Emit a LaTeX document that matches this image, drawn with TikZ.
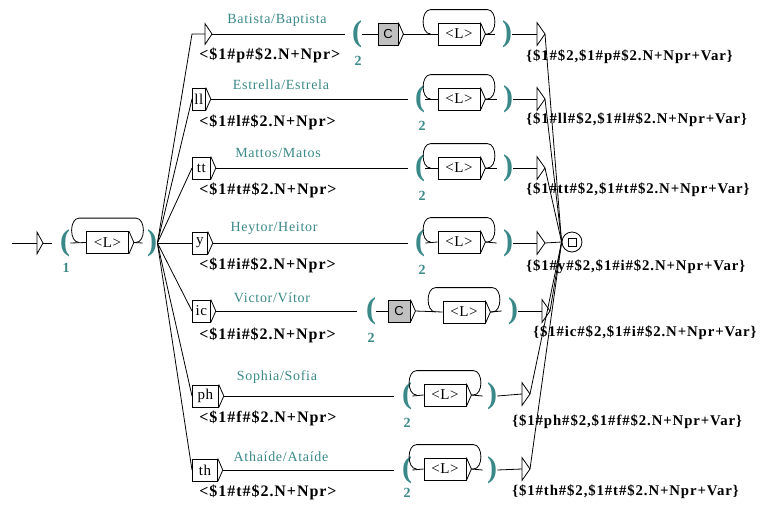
\documentclass[tikz,border=0pt]{standalone}
\usepackage{fontspec}
\setmainfont{Liberation Serif}
\newfontfamily\comfont[LetterSpace=5]{Liberation Serif}
\newfontfamily\outfont[LetterSpace=6]{Liberation Serif}
\newfontfamily\outlfont[LetterSpace=6]{Liberation Serif}
\newfontfamily\boxfont[LetterSpace=4]{Liberation Serif}
\newfontfamily\cfont{Liberation Sans}
\usetikzlibrary{calc}
\definecolor{tealc}{HTML}{3A8888}
\definecolor{boxgray}{HTML}{C0C0C0}
\newcommand\chev[1]{\draw (#1.north east) -- ([xshift=5pt]#1.east) -- (#1.south east);}
\newcommand\trig[2]{\draw (#1.north) -- ([xshift=#2pt]#1.center) -- (#1.south) -- cycle;}
\newcommand\lloop[1]{\draw ([xshift=5pt]#1.east) -- ([xshift=7pt]#1.east) .. controls ([xshift=17pt]#1.east) and ([xshift=17pt,yshift=13pt]#1.north east) .. ([xshift=7pt,yshift=13pt]#1.north east) -- ([xshift=-7pt,yshift=13pt]#1.north west) .. controls ([xshift=-17pt,yshift=13pt]#1.north west) and ([xshift=-17pt]#1.west) .. ([xshift=-7pt]#1.west);}
\tikzset{
 ubox/.style={draw, inner xsep=2pt, inner ysep=0pt, minimum height=22pt, font=\boxfont\fontsize{15}{17}\selectfont},
 lbox/.style={ubox, minimum width=42pt},
 cbox/.style={draw, fill=boxgray, inner sep=0pt, minimum height=22pt, font=\cfont\fontsize{13}{15}\selectfont},
 zpt/.style={inner sep=0pt, minimum width=0pt, minimum height=#1},
 paren/.style={inner sep=0pt, text width=#1, align=right, text=tealc, font=\bfseries\fontsize{30}{30}\selectfont},
 com/.style={text=tealc, inner sep=0pt, font=\comfont\fontsize{14}{16}\selectfont},
 num/.style={text=tealc, inner sep=0pt, font=\bfseries\fontsize{14}{16}\selectfont},
 outp/.style={inner sep=0pt, anchor=west, font=\outfont\bfseries\fontsize{14.8}{16}\selectfont},
 outl/.style={inner sep=0pt, anchor=west, font=\outlfont\bfseries\fontsize{16}{18}\selectfont},
}
\begin{document}
\begin{tikzpicture}[x=1pt,y=-1pt,line width=0.8pt]
\useasboundingbox (0,0) rectangle (761,504);
% final state
\node[circle, draw, minimum size=20pt, inner sep=0pt] (F) at (572,242) {};
\node[draw, minimum size=8pt, inner sep=0pt] (Fs) at (F.center) {};
% start
\coordinate (S) at (12,243);
\node[zpt=21pt] (I) at (37,243) {};
\node[paren=18pt] (P0) at (61,243) {(};
\node[num] (n1) at (66,268) {1};
\node[lbox] (L0) at (107.5,242.5) {<L>};
\node[paren=14pt] (Q0) at (150,243) {)};
\draw (S) -- (I.center); \trig{I}{6}
\draw ([xshift=6pt]I.center) -- (P0.west);
\draw (P0.east) -- (L0.west); \chev{L0} \lloop{L0}
\draw ([xshift=5pt]L0.east) -- (Q0.west);
% row 1
\node[zpt=20pt] (T1) at (205,34) {};
\node[com] (c1) at (277,20) {Batista/Baptista};
\node[outl] (o1) at (199,55) {<\$1\#p\#\$2.N+Npr>};
\node[paren=17pt] (P1) at (353.5,34) {(};
\node[num] (n2a) at (358,61) {2};
\node[cbox, minimum width=20pt] (C1) at (388,34) {C};
\node[lbox] (L1) at (459,34) {<L>};
\node[paren=17pt] (Q1) at (503.5,34) {)};
\node[zpt=22pt] (E1) at (537,34) {};
\node[outp] (r1) at (526,57) {\{\$1\#\$2,\$1\#p\#\$2.N+Npr+Var\}};
\draw (Q0.east) -- ([xshift=-13pt]T1.center) -- (T1.center); \trig{T1}{7}
\draw ([xshift=7pt]T1.center) -- (P1.west);
\draw (P1.east) -- (C1.west); \chev{C1}
\draw ([xshift=5pt]C1.east) -- (L1.west); \chev{L1} \lloop{L1}
\draw ([xshift=5pt]L1.east) -- (Q1.west);
\draw (Q1.east) -- (E1.center); \trig{E1}{8}
\draw ([xshift=8pt]E1.center) -- (F.west);
% row 2
\node[ubox, anchor=west, minimum width=13pt] (B2) at (192,99) {ll};
\node[com] (c2) at (281,85) {Estrella/Estrela};
\node[outl] (o2) at (199,122) {<\$1\#l\#\$2.N+Npr>};
\node[paren=17pt] (P2) at (416.5,99) {(};
\node[num] (n2b) at (422,126) {2};
\node[lbox] (L2) at (459,99) {<L>};
\node[paren=16pt] (Q2) at (505,99) {)};
\node[zpt=22pt] (E2) at (537,99) {};
\node[outp] (r2) at (526,120) {\{\$1\#ll\#\$2,\$1\#l\#\$2.N+Npr+Var\}};
\draw (Q0.east) -- (B2.west); \chev{B2}
\draw ([xshift=5pt]B2.east) -- (P2.west);
\draw (P2.east) -- (L2.west); \chev{L2} \lloop{L2}
\draw ([xshift=5pt]L2.east) -- (Q2.west);
\draw (Q2.east) -- (E2.center); \trig{E2}{8}
\draw ([xshift=8pt]E2.center) -- (F.west);
% row 3
\node[ubox, anchor=west, minimum width=18pt] (B3) at (192,168) {tt};
\node[com] (c3) at (278,153) {Mattos/Matos};
\node[outl] (o3) at (199,190) {<\$1\#t\#\$2.N+Npr>};
\node[paren=17pt] (P3) at (416.5,168) {(};
\node[num] (n2c) at (422,196) {2};
\node[lbox] (L3) at (459,168) {<L>};
\node[paren=16pt] (Q3) at (505,168) {)};
\node[zpt=22pt] (E3) at (537,168) {};
\node[outp] (r3) at (526,190) {\{\$1\#tt\#\$2,\$1\#t\#\$2.N+Npr+Var\}};
\draw (Q0.east) -- (B3.west); \chev{B3}
\draw ([xshift=5pt]B3.east) -- (P3.west);
\draw (P3.east) -- (L3.west); \chev{L3} \lloop{L3}
\draw ([xshift=5pt]L3.east) -- (Q3.west);
\draw (Q3.east) -- (E3.center); \trig{E3}{8}
\draw ([xshift=8pt]E3.center) -- (F.west);
% row 4
\node[ubox, anchor=west, minimum width=15pt] (B4) at (192,243) {y};
\node[com] (c4) at (274,228) {Heytor/Heitor};
\node[outl] (o4) at (199,265) {<\$1\#i\#\$2.N+Npr>};
\node[paren=17pt] (P4) at (416.5,243) {(};
\node[num] (n2d) at (422,270) {2};
\node[lbox] (L4) at (459,242) {<L>};
\node[paren=16pt] (Q4) at (505,243) {)};
\node[zpt=22pt] (E4) at (537,243) {};
\node[outp] (r4) at (526,267) {\{\$1\#y\#\$2,\$1\#i\#\$2.N+Npr+Var\}};
\draw (Q0.east) -- (B4.west); \chev{B4}
\draw ([xshift=5pt]B4.east) -- (P4.west);
\draw (P4.east) -- (L4.west); \chev{L4} \lloop{L4}
\draw ([xshift=5pt]L4.east) -- (Q4.west);
\draw (Q4.east) -- (E4.center); \trig{E4}{8}
\draw ([xshift=8pt]E4.center) -- (F.west);
% row 5
\node[ubox, anchor=west, minimum width=18pt] (B5) at (192,311) {ic};
\node[com] (c5) at (272,298) {Victor/Vítor};
\node[outl] (o5) at (199,335) {<\$1\#i\#\$2.N+Npr>};
\node[paren=19pt] (P5) at (366.5,311) {(};
\node[num] (n2e) at (371,338) {2};
\node[cbox, minimum width=22pt] (C5) at (399,311) {C};
\node[lbox] (L5) at (464,312) {<L>};
\node[paren=16pt] (Q5) at (510,311) {)};
\node[zpt=22pt] (E5) at (542,311) {};
\node[outp] (r5) at (533,333) {\{\$1\#ic\#\$2,\$1\#i\#\$2.N+Npr+Var\}};
\draw (Q0.east) -- (B5.west); \chev{B5}
\draw ([xshift=5pt]B5.east) -- (P5.west);
\draw (P5.east) -- (C5.west); \chev{C5}
\draw ([xshift=5pt]C5.east) -- (L5.west); \chev{L5} \lloop{L5}
\draw ([xshift=5pt]L5.east) -- (Q5.west);
\draw (Q5.east) -- (E5.center); \trig{E5}{8}
\draw ([xshift=8pt]E5.center) -- (F.west);
% row 6
\node[ubox, anchor=west, minimum width=26pt] (B6) at (192,396) {ph};
\node[com] (c6) at (277,377) {Sophia/Sofia};
\node[outl] (o6) at (199,418) {<\$1\#f\#\$2.N+Npr>};
\node[paren=18pt] (P6) at (403,396) {(};
\node[num] (n2f) at (407,423) {2};
\node[lbox] (L6) at (445,395) {<L>};
\node[paren=14pt] (Q6) at (490,396) {)};
\node[zpt=22pt] (E6) at (522,394) {};
\node[outp] (r6) at (512,422) {\{\$1\#ph\#\$2,\$1\#f\#\$2.N+Npr+Var\}};
\draw (Q0.east) -- (B6.west); \chev{B6}
\draw ([xshift=5pt]B6.east) -- (P6.west);
\draw (P6.east) -- (L6.west); \chev{L6} \lloop{L6}
\draw ([xshift=5pt]L6.east) -- (Q6.west);
\draw (Q6.east) -- (E6.center); \trig{E6}{8}
\draw ([xshift=8pt]E6.center) -- (F.west);
% row 7
\node[ubox, anchor=west, minimum width=25pt] (B7) at (192,470) {th};
\node[com] (c7) at (281,457) {Athaíde/Ataíde};
\node[outl] (o7) at (199,492) {<\$1\#t\#\$2.N+Npr>};
\node[paren=18pt] (P7) at (403,470) {(};
\node[num] (n2g) at (407,493) {2};
\node[lbox] (L7) at (445,469) {<L>};
\node[paren=14pt] (Q7) at (490,470) {)};
\node[zpt=22pt] (E7) at (522,469) {};
\node[outp] (r7) at (512,492) {\{\$1\#th\#\$2,\$1\#t\#\$2.N+Npr+Var\}};
\draw (Q0.east) -- (B7.west); \chev{B7}
\draw ([xshift=5pt]B7.east) -- (P7.west);
\draw (P7.east) -- (L7.west); \chev{L7} \lloop{L7}
\draw ([xshift=5pt]L7.east) -- (Q7.west);
\draw (Q7.east) -- (E7.center); \trig{E7}{8}
\draw ([xshift=8pt]E7.center) -- (F.west);
\end{tikzpicture}
\end{document}
